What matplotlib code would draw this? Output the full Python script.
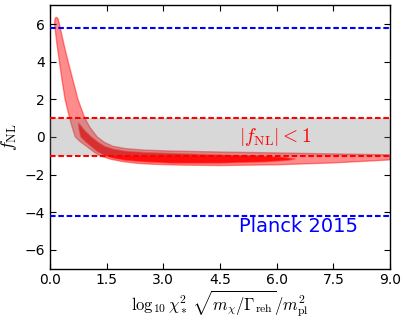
import numpy as np
import matplotlib
matplotlib.use("Agg")
import matplotlib.pyplot as plt

plt.rcParams['mathtext.fontset'] = 'cm'
plt.rcParams['lines.scale_dashes'] = False

# outer (light) band: right/upper edge and left/lower edge
outer_up_x = [0.16, 0.21, 0.25, 0.36, 0.48, 0.61, 0.74, 0.83, 0.92, 1.06, 1.25, 1.45, 1.67, 2.00, 2.50, 3.20, 4.50, 6.00, 7.50, 9.00]
outer_up_y = [6.37, 6.30, 6.00, 5.00, 4.00, 3.00, 2.00, 1.50, 1.00, 0.50, 0.00, -0.30, -0.50, -0.62, -0.70, -0.75, -0.80, -0.85, -0.90, -0.95]
outer_lo_x = [0.16, 0.13, 0.12, 0.18, 0.25, 0.32, 0.40, 0.46, 0.52, 0.59, 0.67, 0.80, 0.97, 1.15, 1.32, 1.60, 1.90, 2.30, 2.70, 3.50, 4.50, 6.00, 7.50, 9.00]
outer_lo_y = [6.37, 6.25, 6.00, 5.00, 4.00, 3.00, 2.00, 1.50, 1.00, 0.50, 0.00, -0.25, -0.50, -0.78, -1.00, -1.18, -1.30, -1.40, -1.45, -1.50, -1.52, -1.48, -1.38, -1.22]

# inner (dark) band
inner_up_x = [0.75, 0.80, 0.92, 1.10, 1.28, 1.46, 1.70, 2.00, 2.50, 3.20, 4.50, 5.50, 6.20, 6.50]
inner_up_y = [0.76, 0.65, 0.35, 0.00, -0.28, -0.50, -0.65, -0.75, -0.82, -0.87, -0.95, -1.00, -1.08, -1.17]
inner_lo_x = [0.75, 0.76, 0.81, 0.93, 1.08, 1.25, 1.45, 1.70, 2.00, 2.50, 3.20, 4.50, 5.70, 6.30, 6.50]
inner_lo_y = [0.76, 0.45, 0.00, -0.25, -0.50, -0.78, -1.00, -1.15, -1.25, -1.33, -1.40, -1.40, -1.33, -1.25, -1.17]

fnl_limit = 1.0
planck_hi = 5.8
planck_lo = -4.2

fig = plt.figure(figsize=(4.07, 3.2), dpi=100)
ax = fig.add_axes([50/407., 1 - 268.6/320., 340/407., 263.3/320.])

# bands
ax.fill(outer_up_x + outer_lo_x[::-1], outer_up_y + outer_lo_y[::-1],
        facecolor=(1, 0, 0, 0.45), edgecolor=(1, 0, 0, 0.45), lw=1, zorder=1)
ax.fill(inner_up_x + inner_lo_x[::-1], inner_up_y + inner_lo_y[::-1],
        facecolor=(1, 0, 0, 0.9), edgecolor=(1, 0.3, 0.3, 0.6), lw=0.8, zorder=2)

# |fNL|<1 region
ax.axhspan(-fnl_limit, fnl_limit, color='gray', alpha=0.3, lw=0, zorder=3)
ax.axhline(fnl_limit, color='red', ls='--', dashes=(4, 2), lw=1.5, zorder=4)
ax.axhline(-fnl_limit, color='red', ls='--', dashes=(4, 2), lw=1.5, zorder=4)
ax.axhline(planck_hi, color='blue', ls='--', dashes=(4, 2), lw=1.5, zorder=4)
ax.axhline(planck_lo, color='blue', ls='--', dashes=(4, 2), lw=1.5, zorder=4)

ax.text(5.0, 0.0, r'$|f_{\rm NL}|<1$', color='red', fontsize=14, va='center', ha='left', zorder=5)
ax.text(5.0, -4.75, 'Planck 2015', color='blue', fontsize=14, va='center', ha='left', zorder=5)

ax.set_xlim(0, 9)
ax.set_ylim(-7, 7)
ax.set_xticks([0, 1.5, 3, 4.5, 6, 7.5, 9])
ax.set_xticklabels(['0.0', '1.5', '3.0', '4.5', '6.0', '7.5', '9.0'])
ax.set_yticks([-6, -4, -2, 0, 2, 4, 6])
ax.set_yticklabels(['\u22126', '\u22124', '\u22122', '0', '2', '4', '6'])
ax.tick_params(direction='in', top=True, right=True, labelsize=10, length=4, width=0.8)
for s in ax.spines.values():
    s.set_linewidth(1)

ax.set_ylabel(r'$f_{\rm NL}$', fontsize=13)
ax.set_xlabel(r'$\log_{10}\chi_*^2\,\sqrt{m_\chi/\Gamma_{\rm reh}}/m_{\rm pl}^2$', fontsize=12, labelpad=1)

fig.savefig('out.png', dpi=100)
